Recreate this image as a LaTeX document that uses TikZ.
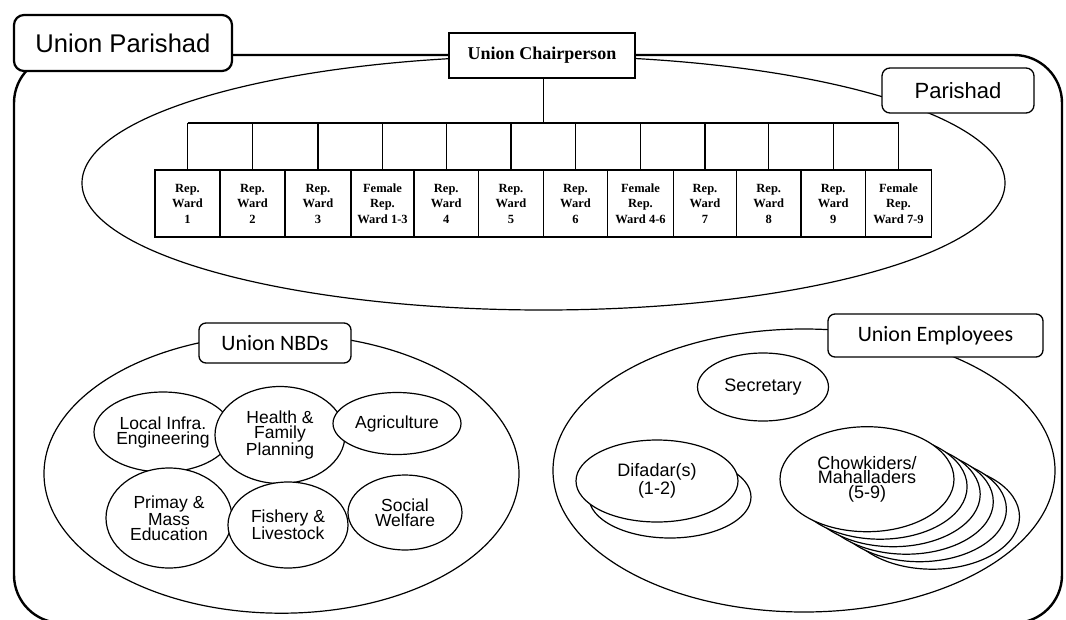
\documentclass[tikz,border=0pt]{standalone}
\usepackage{fontspec}
\setmainfont{Liberation Sans}
\newfontfamily\wardfont{Liberation Serif}
\newfontfamily\calfont{Carlito}
\usetikzlibrary{shapes.geometric}
\begin{document}
\begin{tikzpicture}[x=1pt,y=-1pt,
  frame/.style={line width=2.4pt, rounded corners=48pt},
  toplabel/.style={draw, fill=white, line width=2.2pt, rounded corners=10pt,
    minimum width=218pt, minimum height=56pt, inner sep=0pt,
    font=\fontsize{25.6}{30}\selectfont},
  grouplabel/.style={draw, fill=white, line width=1.3pt, rounded corners=7pt,
    inner sep=0pt, font=\calfont\fontsize{22}{26}\selectfont},
  chairbox/.style={draw, fill=white, line width=1.4pt, inner sep=0pt,
    minimum width=186pt, minimum height=45pt,
    font=\wardfont\bfseries\fontsize{18}{20}\selectfont},
  wardbox/.style={draw, fill=white, line width=1.4pt, inner sep=0pt,
    minimum height=67pt, align=center,
    font=\wardfont\bfseries\fontsize{12.5}{15.5}\selectfont},
  chart/.style={line width=1.4pt},
  group/.style={ellipse, draw, line width=1.2pt, inner sep=0pt},
  bub/.style={ellipse, draw, fill=white, line width=1.2pt, inner sep=0pt,
    align=center, font=\fontsize{17.5}{15}\selectfont},
  emp/.style={bub, font=\fontsize{18}{14.5}\selectfont}
]
\useasboundingbox (0,0) rectangle (1066,619);

% outer frame of the union parishad
\draw[frame] (14,55) rectangle (1062,623);
\node[toplabel] (up) at (123,43) {Union Parishad};

% parishad: chairperson and ward representatives
\node[group, minimum width=923pt, minimum height=254pt] (parishad) at (543.5,183) {};
\node[chairbox] (chair) at (542,55.5) {Union Chairperson};
\node[grouplabel, font=\fontsize{22}{26}\selectfont, rounded corners=8pt,
  minimum width=152pt, minimum height=45pt] (plabel) at (958,90.5) {Parishad};

\coordinate (bus) at (543.7,123);
\foreach \n/\c/\w/\t in {
  1/187.5/65/{Rep.\\Ward\\1},
  2/252.5/65/{Rep.\\Ward\\2},
  3/318/66/{Rep.\\Ward\\3},
  4/382.5/63/{Female\\Rep.\\Ward 1-3},
  5/446.25/64.5/{Rep.\\Ward\\4},
  6/511/65/{Rep.\\Ward\\5},
  7/575.5/64/{Rep.\\Ward\\6},
  8/640.5/66/{Female\\Rep.\\Ward 4-6},
  9/705/63/{Rep.\\Ward\\7},
  10/768.75/64.5/{Rep.\\Ward\\8},
  11/833.25/64.5/{Rep.\\Ward\\9},
  12/898.5/66/{Female\\Rep.\\Ward 7-9}}
  \node[wardbox, minimum width=\w pt] (w\n) at (\c,203.5) {\t};

\draw[chart] (chair.south -| bus) -- (bus);
\draw[chart] (w1.north |- bus) -- (w12.north |- bus);
\foreach \n in {1,...,12}
  \draw[chart] (w\n.north |- bus) -- (w\n.north);

% union nation building departments
\node[group, minimum width=475pt, minimum height=279pt] (nbd) at (281.5,473.7) {};
\node[grouplabel, minimum width=152pt, minimum height=40pt] (nbdlabel) at (275,343) {Union NBDs};
\node[bub, minimum width=138pt, minimum height=80pt] (lge) at (163,432) {Local Infra.\\Engineering};
\node[bub, minimum width=126pt, minimum height=100pt] (edu) at (169,518) {Primay \&\\Mass\\Education};
\node[bub, minimum width=130pt, minimum height=97pt] (health) at (280,435) {Health \&\\Family\\Planning};
\node[bub, minimum width=120pt, minimum height=86pt] (fish) at (288,525) {Fishery \&\\Livestock};
\node[bub, minimum width=128pt, minimum height=62pt] (agri) at (397,423.5) {Agriculture};
\node[bub, minimum width=114pt, minimum height=75pt] (social) at (405,512.5) {Social\\Welfare};

% union employees
\node[group, minimum width=502pt, minimum height=283pt] (emps) at (804,470.5) {};
\node[grouplabel, minimum width=215pt, minimum height=43pt] (emplabel) at (935.5,335.5) {Union Employees};
\node[emp, minimum width=131pt, minimum height=68pt] (sec) at (763,387) {Secretary};
\node[emp, minimum width=162pt, minimum height=82pt] (dif2) at (670,497) {};
\node[emp, minimum width=162pt, minimum height=82pt] (dif) at (657,481) {Difadar(s)\\(1-2)};
\foreach \k in {5,4,3,2,1}
  \node[emp, minimum width=174pt, minimum height=105pt] (chow\k) at (867+13.1*\k,479.2+7.5*\k) {};
\node[emp, minimum width=174pt, minimum height=105pt] (chow) at (867,479.2) {Chowkiders/\\Mahalladers\\(5-9)};
\end{tikzpicture}
\end{document}
